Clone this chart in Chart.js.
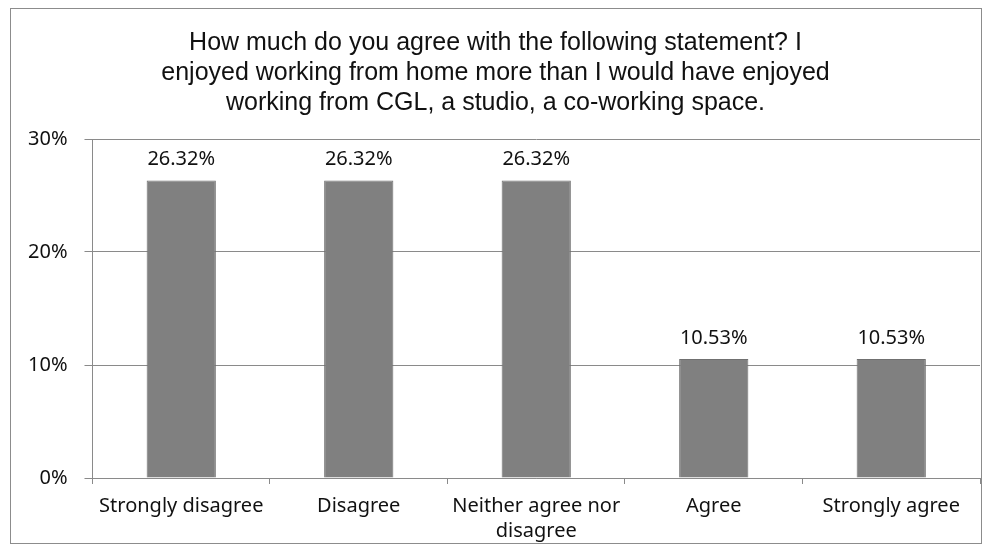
<!DOCTYPE html>
<html>
<head>
<meta charset="utf-8">
<script src="https://cdn.jsdelivr.net/npm/chart.js@4/dist/chart.umd.min.js"></script>
<style>
  html, body { margin: 0; padding: 0; background: #fff; }
  #wrap {
    position: absolute; left: 11px; top: 9px;
    width: 970px; height: 545px;
  }
  #frame {
    position: absolute; left: 10px; top: 8px;
    width: 970px; height: 534px;
    border: 1px solid #8c8c8c;
    pointer-events: none;
  }
</style>
</head>
<body>
<div id="frame"></div>
<div id="wrap"><canvas id="surveyChart"></canvas></div>
<script>
// datos del gráfico
const categories = ['Strongly disagree', 'Disagree', ['Neither agree nor', 'disagree'], 'Agree', 'Strongly agree'];
const shares = [0.2632, 0.2632, 0.2632, 0.1053, 0.1053];
const yTicks = [0, 0.1, 0.2, 0.3];
const titleLines = [
  'How much do you agree with the following statement? I',
  'enjoyed working from home more than I would have enjoyed',
  'working from CGL, a studio, a co-working space.'
];

const labelFont = '"Noto Sans", "DejaVu Sans", sans-serif';

// etiquetas de valor encima de cada barra
const valueLabels = {
  id: 'valueLabels',
  afterDatasetsDraw(chart) {
    const ctx = chart.ctx;
    const meta = chart.getDatasetMeta(0);
    ctx.save();
    ctx.font = '20px ' + labelFont;
    ctx.fillStyle = '#111';
    ctx.textAlign = 'center';
    ctx.textBaseline = 'bottom';
    meta.data.forEach((bar, i) => {
      ctx.fillText((shares[i] * 100).toFixed(2) + '%', bar.x, bar.y - 11);
    });
    ctx.restore();
  }
};

new Chart(document.getElementById('surveyChart').getContext('2d'), {
  type: 'bar',
  data: {
    labels: categories,
    datasets: [{
      data: shares,
      backgroundColor: '#808080',
      borderColor: '#707070',
      borderWidth: 1,
      categoryPercentage: 1,
      barPercentage: 0.39
    }]
  },
  options: {
    responsive: true,
    maintainAspectRatio: false,
    animation: false,
    layout: { padding: { left: 0, right: 1, top: 0, bottom: 0 } },
    plugins: {
      legend: { display: false },
      tooltip: { enabled: false },
      title: {
        display: true,
        text: titleLines,
        color: '#111',
        font: { family: '"Liberation Sans", Arial, sans-serif', size: 25, weight: 'normal', lineHeight: 1.2 },
        padding: { top: 19, bottom: 21 }
      }
    },
    scales: {
      x: {
        grid: { display: true, drawOnChartArea: false, offset: true, color: '#8a8a8a', tickLength: 6 },
        border: { color: '#8a8a8a' },
        ticks: { color: '#111', font: { family: labelFont, size: 20, lineHeight: 1.25 }, maxRotation: 0, padding: 10 }
      },
      y: {
        min: 0,
        max: 0.3,
        afterBuildTicks(axis) { axis.ticks = yTicks.map(v => ({ value: v })); },
        grid: { color: '#8a8a8a', tickLength: 8 },
        border: { color: '#8a8a8a' },
        ticks: {
          color: '#111',
          font: { family: labelFont, size: 20 },
          padding: 17,
          callback: v => Math.round(v * 100) + '%'
        }
      }
    }
  },
  plugins: [valueLabels]
});
</script>
</body>
</html>
